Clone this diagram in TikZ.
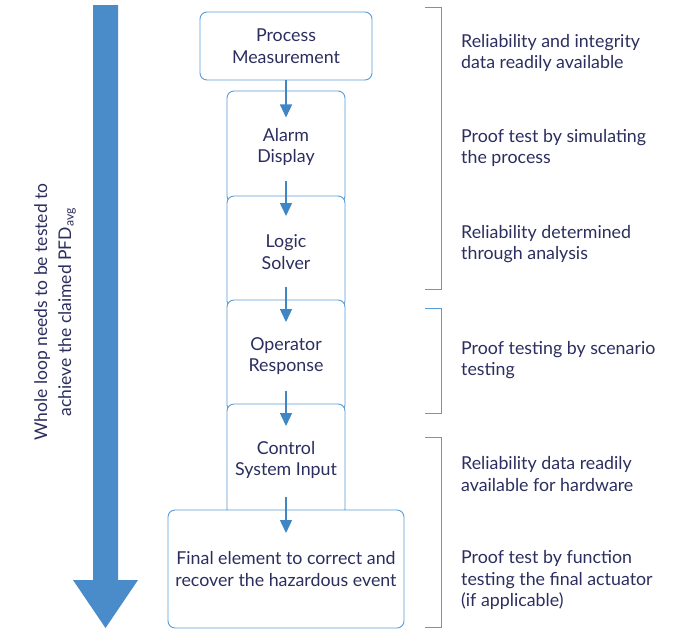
\documentclass[tikz,border=0pt]{standalone}
\usepackage{fontspec}
\setmainfont{Lato}
\usetikzlibrary{arrows.meta}
\definecolor{navy}{HTML}{2B2E5E}
\definecolor{boxline}{HTML}{5B9BD5}
\definecolor{bigblue}{HTML}{4A8BC9}
\definecolor{connblue}{HTML}{3E86C6}
\tikzset{
  stage/.style={draw=boxline, line width=0.9pt, fill=white, rounded corners=7pt,
    text=navy, align=center, font=\fontsize{17.8}{21.5}\selectfont, inner sep=0pt},
  note/.style={text=navy, align=left, anchor=west, font=\fontsize{17.8}{21.5}\selectfont, inner sep=0pt},
  conn/.style={draw=connblue, line width=1.4pt, -{Triangle[width=12pt,length=13pt]}},
  brace/.style={draw=boxline, line width=0.9pt}
}
\begin{document}
\begin{tikzpicture}[x=1pt,y=-1pt]
\useasboundingbox (0,0) rectangle (684,630);

% big downward arrow
\fill[bigblue] (93,5) -- (118,5) -- (118,580) -- (138,580) -- (105.5,628)
  -- (73,580) -- (93,580) -- cycle;
\node[rotate=90, text=navy, align=center, font=\fontsize{17.5}{24}\selectfont]
  (loop) at (55,312) {Whole loop needs to be tested to\\achieve the claimed PFD\textsubscript{avg}};

% stacked stages
\node[stage, minimum width=172pt, minimum height=68pt] (pm) at (286,46) {Process\\Measurement};
\node[stage, minimum width=118pt, minimum height=112pt] (ad) at (286,147) {Alarm\\Display};
\node[stage, minimum width=118pt, minimum height=112pt] (ls) at (286,252) {Logic\\Solver};
\node[stage, minimum width=118pt, minimum height=112pt] (or) at (286,356) {Operator\\Response};
\node[stage, minimum width=118pt, minimum height=112pt] (cs) at (286,460) {Control\\System Input};
\node[stage, minimum width=236pt, minimum height=118pt] (fe) at (286,569) {Final element to correct and\\recover the hazardous event};

% connectors
\draw[conn] (pm.south) -- ++(0,37);
\draw[conn] ([yshift=-34pt]ad.center) -- ++(0,35);
\draw[conn] ([yshift=-35pt]ls.center) -- ++(0,35);
\draw[conn] ([yshift=-35pt]or.center) -- ++(0,35);
\draw[conn] ([yshift=-37pt]cs.center) -- ++(0,36);

% brackets
\draw[brace] (425,7) -- (441.5,7) -- (441.5,289) -- (425,289);
\draw[brace] (425,308) -- (441.5,308) -- (441.5,413) -- (425,413);
\draw[brace] (425,437) -- (441.5,437) -- (441.5,627) -- (425,627);

% notes
\node[note] (n1) at (461,53) {Reliability and integrity\\data readily available};
\node[note] (n2) at (461,148) {Proof test by simulating\\the process};
\node[note] (n3) at (461,244) {Reliability determined\\through analysis};
\node[note] (n4) at (461,360) {Proof testing by scenario\\testing};
\node[note] (n5) at (461,474) {Reliability data readily\\available for hardware};
\node[note] (n6) at (461,580) {Proof test by function\\testing the final actuator\\(if applicable)};
\end{tikzpicture}
\end{document}
